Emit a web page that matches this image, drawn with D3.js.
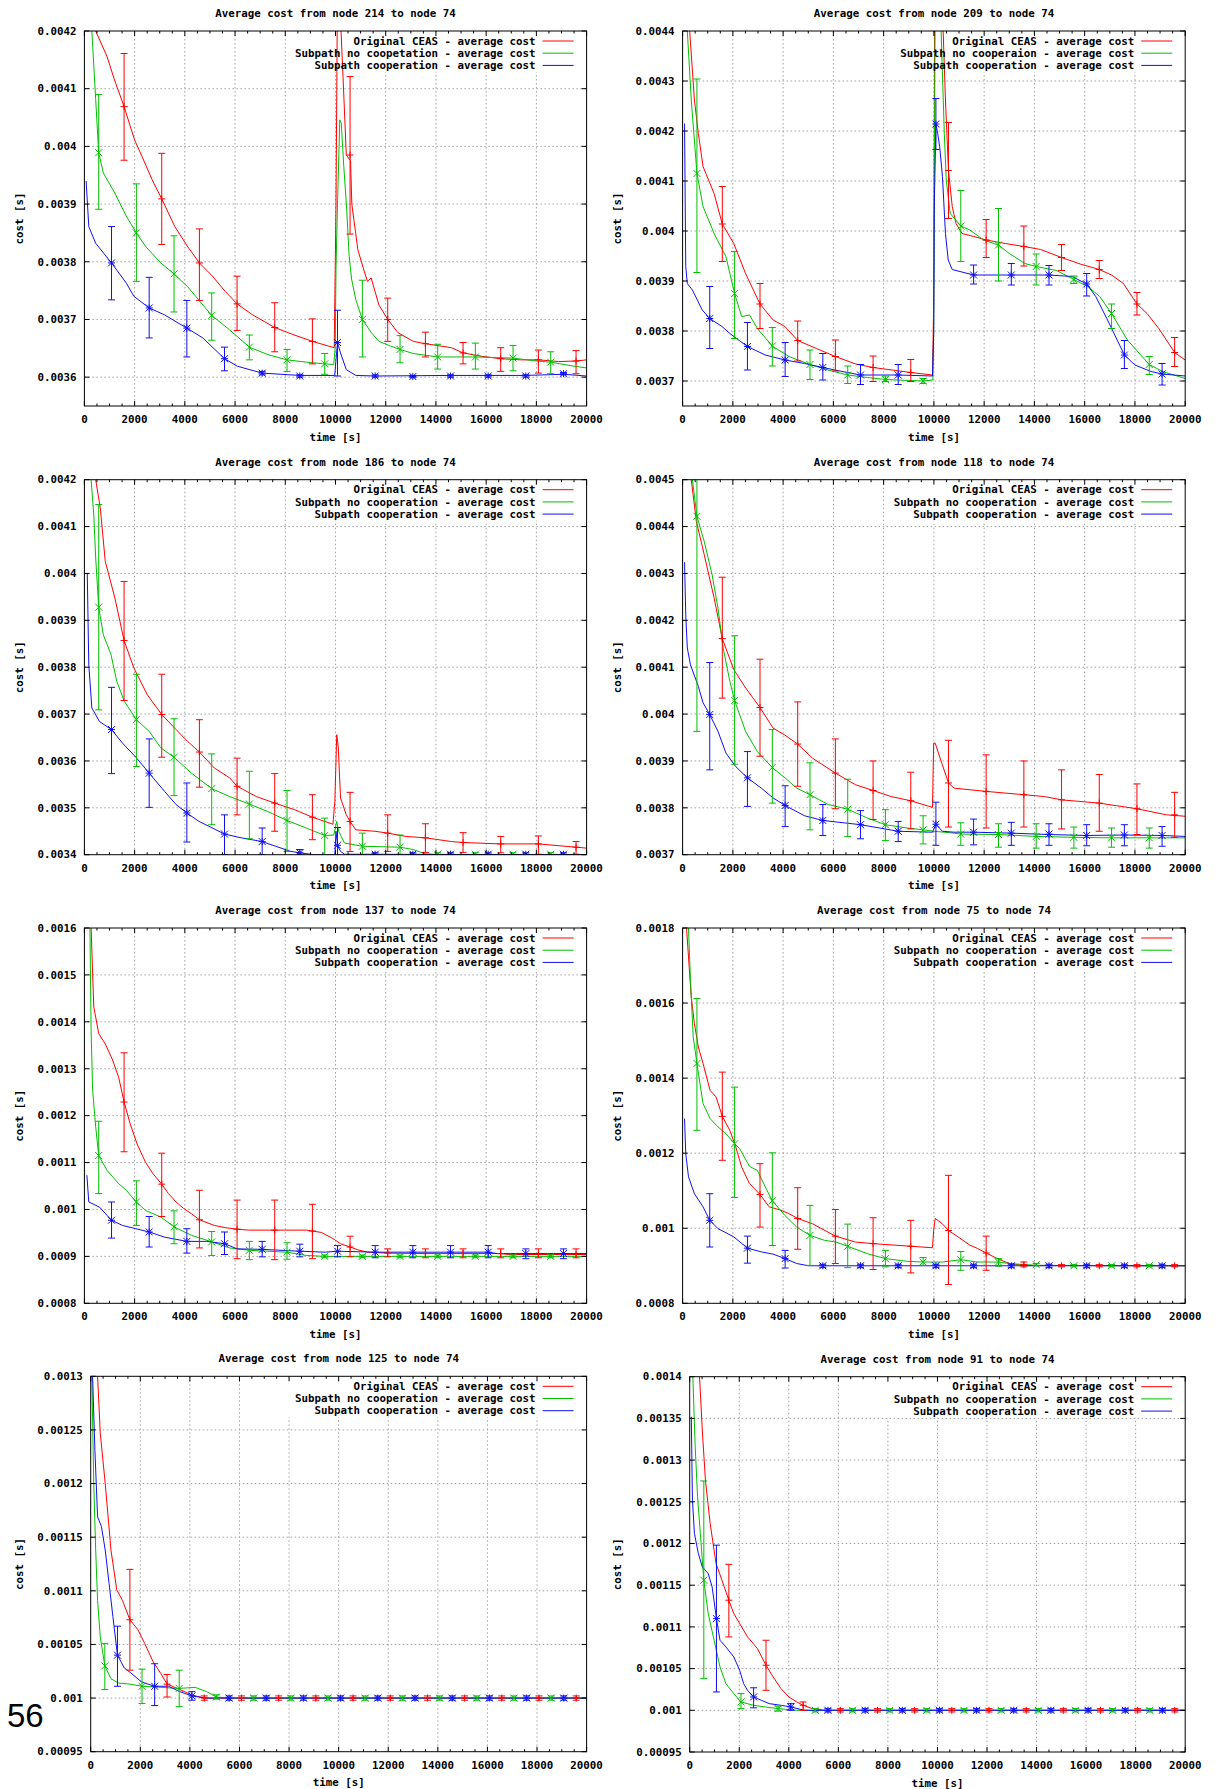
<!DOCTYPE html>
<html>
<head>
<meta charset="utf-8">
<script src="https://cdn.jsdelivr.net/npm/d3@7"></script>
<style>
  body { margin: 0; background: #fff; }
  svg { display: block; }
  text { font-family: "DejaVu Sans Mono", monospace; font-weight: bold; font-size: 10.8px; fill: #000; }
</style>
</head>
<body>
<div id="chart"></div>
<script>
// Tiempos de las barras de error (cada 1500 s, desplazadas por serie)
const origErrT = [1580, 3080, 4580, 6080, 7580, 9080, 10580, 12080, 13580, 15080, 16580, 18080, 19580];
const noCoopErrT = [570, 2070, 3570, 5070, 6570, 8070, 9570, 11070, 12570, 14070, 15570, 17070, 18570];
const coopErrT = [1080, 2580, 4080, 5580, 7080, 8580, 10080, 11580, 13080, 14580, 16080, 17580, 19080];

const xTicks = [0, 2000, 4000, 6000, 8000, 10000, 12000, 14000, 16000, 18000, 20000];

// ---- node 214 ----
const yTicks214 = [0.0036, 0.0037, 0.0038, 0.0039, 0.004, 0.0041, 0.0042];
const orig214 = [[450,0.0042],[900,0.004156],[1200,0.004115],[1580,0.004069],[2000,0.004011],[2300,0.003982],[2700,0.003942],[3080,0.003909],[3600,0.003861],[4100,0.003827],[4580,0.003798],[5100,0.003775],[5600,0.003749],[6080,0.003727],[6700,0.003708],[7580,0.003686],[8300,0.003674],[9080,0.003662],[9950,0.003651],[10020,0.0039],[10080,0.00428],[10200,0.00422],[10300,0.00412],[10430,0.003985],[10600,0.003975],[10650,0.0039],[10890,0.003821],[11100,0.00379],[11270,0.003766],[11420,0.003772],[11730,0.003725],[12080,0.0037],[12490,0.003677],[13100,0.003662],[13580,0.003658],[14620,0.003651],[15080,0.003642],[15840,0.003636],[16580,0.003632],[17370,0.00363],[18080,0.00363],[18890,0.003627],[19580,0.003628],[20000,0.00363]];
const orig214Err = [[0.004069,0.003976,0.004161],[0.003909,0.00383,0.003988],[0.003798,0.003733,0.003857],[0.003727,0.003681,0.003775],[0.003686,0.003644,0.003729],[0.003662,0.003623,0.003701],[0.003985,0.003848,0.004121],[0.0037,0.003662,0.003737],[0.003658,0.003635,0.003678],[0.003642,0.003623,0.00366],[0.003632,0.00361,0.003651],[0.00363,0.003607,0.003647],[0.003628,0.003606,0.003646]];
const noCoop214 = [[297,0.0042],[450,0.004081],[570,0.003989],[754,0.003954],[1212,0.003919],[1669,0.003879],[2070,0.00385],[2430,0.003827],[3040,0.003798],[3570,0.003779],[4107,0.003757],[5070,0.003707],[5784,0.003682],[6570,0.003652],[7307,0.003639],[8070,0.00363],[8832,0.003626],[9570,0.003623],[9930,0.003622],[9990,0.003653],[10020,0.00379],[10080,0.0039],[10170,0.004046],[10230,0.00404],[10330,0.003965],[10440,0.003895],[10540,0.003812],[10640,0.00377],[10810,0.003734],[11070,0.0037],[11430,0.003677],[11730,0.003662],[12190,0.003654],[12570,0.003648],[13100,0.003641],[14070,0.003635],[15570,0.003635],[16300,0.003634],[17070,0.003633],[18000,0.003628],[18570,0.003626],[19350,0.00362],[20000,0.003616]];
const noCoop214Err = [[0.003989,0.003891,0.00409],[0.00385,0.003766,0.003935],[0.003779,0.003713,0.003845],[0.003707,0.003664,0.003746],[0.003652,0.00363,0.003673],[0.00363,0.00361,0.003648],[0.003623,0.003605,0.003641],[0.0037,0.003635,0.003768],[0.003648,0.003625,0.003672],[0.003635,0.003614,0.003657],[0.003635,0.003614,0.003659],[0.003633,0.003611,0.003655],[0.003626,0.003606,0.003644]];
const coop214 = [[69,0.00394],[175,0.003861],[450,0.003832],[1080,0.003798],[1670,0.003763],[1973,0.00374],[2580,0.00372],[3190,0.003708],[4080,0.003685],[4716,0.003668],[5580,0.003632],[6088,0.003619],[7080,0.003607],[8580,0.003603],[9970,0.003603],[10020,0.00363],[10080,0.00366],[10200,0.003642],[10430,0.003613],[10810,0.003603],[11580,0.003602],[14580,0.003603],[17580,0.003603],[19080,0.003605],[20000,0.003602]];
const coop214Err = [[0.003798,0.003734,0.003861],[0.00372,0.003668,0.003773],[0.003685,0.003635,0.003733],[0.003632,0.003611,0.003652],[0.003607,0.003604,0.00361],[0.003602,0.0036,0.003604],[0.00366,0.003602,0.003716],[0.003602,0.0036,0.003604],[0.003601,0.003599,0.003603],[0.003602,0.0036,0.003604],[0.003602,0.0036,0.003604],[0.003602,0.0036,0.003604],[0.003606,0.003604,0.003608]];

// ---- node 209 ----
const yTicks209 = [0.0037, 0.0038, 0.0039, 0.004, 0.0041, 0.0042, 0.0043, 0.0044];
const orig209 = [[282,0.0044],[470,0.004262],[626,0.004195],[814,0.004129],[1253,0.004075],[1580,0.004014],[2036,0.003975],[2506,0.003915],[3080,0.003854],[3602,0.003822],[4072,0.003809],[4580,0.003781],[5324,0.003765],[6080,0.003749],[6890,0.003734],[7580,0.003727],[9080,0.003717],[9944,0.003712],[9990,0.00385],[10030,0.00445],[10335,0.00445],[10460,0.004262],[10580,0.004121],[10730,0.004049],[10880,0.004015],[11120,0.003995],[11590,0.003989],[12080,0.003982],[12840,0.003975],[13580,0.003969],[14250,0.003963],[15080,0.003947],[15820,0.003934],[16580,0.003923],[17070,0.003912],[17540,0.003895],[18080,0.003854],[18480,0.003835],[18950,0.003805],[19580,0.003757],[20000,0.003742]];
const orig209Err = [[0.004014,0.003939,0.004089],[0.003854,0.003805,0.003895],[0.003781,0.00374,0.00382],[0.003749,0.00372,0.003782],[0.003727,0.003699,0.00375],[0.003717,0.003699,0.003743],[0.004121,0.004025,0.004217],[0.003982,0.003947,0.004023],[0.003969,0.00393,0.00401],[0.003947,0.003921,0.003973],[0.003923,0.003905,0.003941],[0.003854,0.003832,0.003877],[0.003757,0.003729,0.003787]];
const noCoop209 = [[188,0.0044],[345,0.004262],[570,0.004115],[814,0.004049],[1253,0.003995],[1723,0.003949],[2070,0.003875],[2349,0.003829],[2662,0.003832],[2975,0.003805],[3570,0.00377],[4228,0.003749],[5070,0.003733],[5794,0.003722],[6570,0.003712],[7360,0.003707],[8070,0.003703],[9570,0.0037],[9960,0.003702],[9990,0.003795],[10050,0.00445],[10257,0.00445],[10414,0.004195],[10492,0.004102],[10650,0.004035],[11070,0.00401],[11430,0.004002],[11980,0.003982],[12570,0.003972],[13000,0.003955],[13620,0.003935],[14070,0.003929],[14880,0.003921],[15570,0.003903],[16130,0.003889],[16600,0.003869],[17070,0.003835],[17700,0.003782],[18570,0.003733],[19100,0.003719],[20000,0.003705]];
const noCoop209Err = [[0.004115,0.003917,0.004304],[0.003875,0.003785,0.003959],[0.00377,0.00373,0.003807],[0.003733,0.003703,0.003762],[0.003712,0.003695,0.00373],[0.003703,0.003699,0.00371],[0.0037,0.003695,0.003705],[0.00401,0.003939,0.004081],[0.003972,0.0039,0.004045],[0.003929,0.003892,0.003954],[0.003903,0.003895,0.00391],[0.003835,0.003805,0.003854],[0.003733,0.003713,0.003749]];
const coop209 = [[78,0.004215],[125,0.003929],[188,0.003895],[391,0.003882],[783,0.003842],[1080,0.003825],[1566,0.003809],[1880,0.003795],[2580,0.003769],[3289,0.003752],[4080,0.003742],[4855,0.003735],[5580,0.003727],[6264,0.00372],[7080,0.003712],[8580,0.003712],[9944,0.00371],[9991,0.003795],[10020,0.004062],[10080,0.004214],[10150,0.004195],[10230,0.004169],[10340,0.004109],[10460,0.003995],[10570,0.003942],[10727,0.003923],[11580,0.003912],[13080,0.003912],[14580,0.003912],[15500,0.003909],[16080,0.003894],[16440,0.003869],[16910,0.003822],[17580,0.003752],[18000,0.003732],[18640,0.003719],[19080,0.003714],[20000,0.00371]];
const coop209Err = [[0.003825,0.003765,0.003889],[0.003769,0.003722,0.003817],[0.003742,0.003709,0.003777],[0.003727,0.003702,0.003755],[0.003712,0.003693,0.003733],[0.003712,0.003693,0.003733],[0.004214,0.004163,0.004265],[0.003912,0.003894,0.003932],[0.003912,0.003892,0.003935],[0.003912,0.003892,0.003931],[0.003894,0.00387,0.003915],[0.003752,0.003725,0.003781],[0.003714,0.003692,0.003735]];

// ---- node 186 ----
const yTicks186 = [0.0034, 0.0035, 0.0036, 0.0037, 0.0038, 0.0039, 0.004, 0.0041, 0.0042];
const orig186 = [[450,0.0042],[632,0.00414],[830,0.004026],[1212,0.003948],[1580,0.003857],[1973,0.003798],[2507,0.003741],[3080,0.003699],[3650,0.003667],[4107,0.003642],[4580,0.003619],[5174,0.003585],[5784,0.003564],[6080,0.003546],[6850,0.003524],[7580,0.00351],[8372,0.003496],[9080,0.00348],[9898,0.003465],[9974,0.003514],[10050,0.003656],[10110,0.00363],[10200,0.003521],[10430,0.003485],[10580,0.003471],[10810,0.003453],[11570,0.00345],[12080,0.003446],[12790,0.003439],[13580,0.003436],[14620,0.003428],[15080,0.003426],[16580,0.003423],[18080,0.003423],[19580,0.003416],[20000,0.003414]];
const orig186Err = [[0.003857,0.003729,0.003983],[0.003699,0.003608,0.003785],[0.003619,0.003544,0.003688],[0.003546,0.003485,0.003606],[0.00351,0.00345,0.003573],[0.00348,0.003432,0.003528],[0.003471,0.003407,0.003533],[0.003446,0.003407,0.003485],[0.003436,0.003405,0.003466],[0.003426,0.003405,0.003447],[0.003423,0.003404,0.003439],[0.003423,0.003401,0.00344],[0.003416,0.003401,0.003428]];
const noCoop186 = [[267,0.0042],[373,0.004125],[450,0.004033],[570,0.003928],[754,0.003869],[1059,0.003827],[1288,0.00377],[1593,0.003727],[2070,0.003688],[2583,0.003663],[3040,0.003628],[3570,0.003608],[4260,0.003574],[5070,0.003541],[5784,0.003524],[6570,0.003508],[7307,0.003492],[8070,0.003473],[8832,0.003457],[9570,0.003441],[9930,0.003442],[10050,0.003471],[10128,0.00345],[10355,0.003425],[11070,0.003418],[12570,0.003416],[13100,0.003411],[13560,0.003402],[14020,0.0034],[20000,0.0034]];
const noCoop186Err = [[0.003928,0.003709,0.004147],[0.003688,0.003588,0.003785],[0.003608,0.003526,0.00369],[0.003541,0.003464,0.003615],[0.003508,0.003434,0.003578],[0.003473,0.003407,0.003537],[0.003441,0.0034,0.003478],[0.003418,0.003399,0.003446],[0.003416,0.003399,0.003442],[0.003401,0.003398,0.003404],[0.003401,0.003398,0.003404],[0.003401,0.003398,0.003404],[0.003401,0.003398,0.003404]];
const coop186 = [[114,0.004001],[175,0.003805],[297,0.003713],[602,0.003684],[1080,0.003667],[1517,0.003638],[2050,0.003608],[2580,0.003574],[3193,0.003535],[3650,0.003507],[4080,0.003489],[4564,0.003471],[5580,0.003444],[6244,0.003436],[7080,0.003428],[7613,0.003418],[8222,0.003407],[8580,0.003404],[9136,0.0034],[9974,0.0034],[10020,0.00345],[10080,0.00342],[10200,0.003407],[10355,0.003401],[20000,0.0034]];
const coop186Err = [[0.003667,0.003573,0.003757],[0.003574,0.003501,0.003647],[0.003489,0.003427,0.003553],[0.003444,0.0034,0.003485],[0.003428,0.0034,0.003457],[0.003404,0.003399,0.003411],[0.00342,0.003399,0.003458],[0.003401,0.003398,0.003404],[0.003401,0.003398,0.003404],[0.003401,0.003398,0.003404],[0.003401,0.003398,0.003404],[0.003401,0.003398,0.003404],[0.003401,0.003398,0.003404]];

// ---- node 118 ----
const yTicks118 = [0.0037, 0.0038, 0.0039, 0.004, 0.0041, 0.0042, 0.0043, 0.0044, 0.0045];
const orig118 = [[345,0.0045],[548,0.004411],[861,0.00434],[1253,0.004248],[1580,0.004161],[2036,0.004095],[2506,0.004056],[3080,0.004014],[3602,0.00397],[4072,0.003955],[4580,0.003936],[5168,0.003906],[6080,0.003874],[6890,0.003849],[7580,0.003837],[8300,0.003824],[9080,0.003815],[9944,0.003801],[9990,0.003938],[10050,0.003938],[10335,0.003892],[10580,0.003853],[10800,0.003842],[12080,0.003835],[13580,0.003828],[14400,0.003824],[15080,0.003817],[16580,0.00381],[18080,0.003798],[19260,0.003785],[20000,0.003782]];
const orig118Err = [[0.004161,0.004034,0.004292],[0.004014,0.00391,0.004117],[0.003936,0.003846,0.004026],[0.003874,0.003798,0.003947],[0.003837,0.003775,0.0039],[0.003815,0.003755,0.003876],[0.003853,0.003759,0.003944],[0.003835,0.003757,0.003913],[0.003828,0.003759,0.0039],[0.003817,0.003755,0.003881],[0.00381,0.00375,0.003871],[0.003798,0.003743,0.003851],[0.003785,0.003737,0.003833]];
const noCoop118 = [[391,0.0045],[570,0.004422],[861,0.004368],[1175,0.004297],[1409,0.004226],[1613,0.004141],[1879,0.00407],[2070,0.004029],[2506,0.003963],[2975,0.00392],[3570,0.003886],[4072,0.003864],[4541,0.003842],[5070,0.003828],[5794,0.003807],[6570,0.003797],[7360,0.003778],[8070,0.003764],[8926,0.003757],[9570,0.003753],[10000,0.00375],[10800,0.003746],[11070,0.003744],[12570,0.003743],[14070,0.003739],[15570,0.003737],[17070,0.003736],[20000,0.003736]];
const noCoop118Err = [[0.004422,0.003963,0.004505],[0.004029,0.003893,0.004167],[0.003886,0.00381,0.003967],[0.003828,0.003753,0.003896],[0.003797,0.003739,0.003861],[0.003764,0.00373,0.003796],[0.003753,0.003723,0.003783],[0.003744,0.00372,0.003768],[0.003743,0.003716,0.003766],[0.003739,0.003714,0.003766],[0.003737,0.003714,0.003759],[0.003736,0.003716,0.003757],[0.003736,0.003714,0.003757]];
const coop118 = [[78,0.004324],[125,0.004212],[188,0.004141],[313,0.004105],[626,0.004059],[814,0.004024],[1080,0.003999],[1409,0.003963],[1723,0.003917],[2114,0.003888],[2580,0.003864],[3132,0.003842],[3602,0.003821],[4080,0.003805],[4855,0.003783],[5580,0.003773],[6420,0.003768],[7080,0.003764],[8580,0.00375],[9944,0.003748],[10080,0.003765],[10335,0.00375],[10800,0.003748],[11580,0.003748],[13080,0.003746],[14580,0.003743],[16080,0.003741],[17580,0.003742],[19080,0.003741],[20000,0.003739]];
const coop118Err = [[0.003999,0.003881,0.00411],[0.003864,0.003803,0.00392],[0.003805,0.00376,0.003847],[0.003773,0.003741,0.003807],[0.003764,0.003734,0.003794],[0.00375,0.003728,0.003771],[0.003765,0.00372,0.003812],[0.003748,0.003721,0.003776],[0.003746,0.00372,0.003769],[0.003744,0.00372,0.003766],[0.003741,0.003719,0.003764],[0.003742,0.003719,0.003764],[0.003741,0.003718,0.00376]];

// ---- node 137 ----
const yTicks137 = [0.0008, 0.0009, 0.001, 0.0011, 0.0012, 0.0013, 0.0014, 0.0015, 0.0016];
const orig137 = [[267,0.0016],[373,0.001432],[571,0.001375],[830,0.001353],[1105,0.001321],[1364,0.001282],[1580,0.001229],[1821,0.001183],[2095,0.00114],[2430,0.001101],[2735,0.001076],[3080,0.001054],[3345,0.001034],[3650,0.001016],[3955,0.001002],[4260,0.000991],[4580,0.000978],[5174,0.000966],[5631,0.000961],[6080,0.000958],[6545,0.000956],[7580,0.000956],[8832,0.000956],[9080,0.000954],[9440,0.000951],[9898,0.000938],[10200,0.000927],[10580,0.00092],[10890,0.000914],[11270,0.000909],[12080,0.000907],[13580,0.000906],[16580,0.000906],[16900,0.000904],[20000,0.000904]];
const orig137Err = [[0.001229,0.001123,0.001334],[0.001054,0.000985,0.00112],[0.000978,0.000918,0.001041],[0.000958,0.000895,0.00102],[0.000956,0.000893,0.00102],[0.000954,0.000895,0.001011],[0.00092,0.000899,0.000943],[0.000907,0.000899,0.000916],[0.000906,0.000897,0.000916],[0.000906,0.000897,0.000916],[0.000906,0.000897,0.000916],[0.000904,0.000897,0.000916],[0.000904,0.000897,0.000916]];
const noCoop137 = [[221,0.0016],[267,0.001382],[328,0.001254],[450,0.001176],[570,0.001115],[907,0.001083],[1364,0.001055],[1669,0.001041],[2070,0.001016],[2430,0.000998],[3040,0.000984],[3570,0.000963],[4260,0.000945],[5070,0.000931],[5784,0.000918],[6570,0.000913],[7307,0.000911],[8070,0.000909],[8832,0.000902],[9570,0.0009],[20000,0.0009]];
const noCoop137Err = [[0.001115,0.001034,0.001188],[0.001016,0.000966,0.001061],[0.000963,0.000927,0.000997],[0.000931,0.000902,0.000953],[0.000913,0.000893,0.000932],[0.000909,0.000894,0.000929],[0.0009,0.000897,0.000903],[0.0009,0.000897,0.000903],[0.0009,0.000897,0.000903],[0.0009,0.000897,0.000903],[0.0009,0.000897,0.000903],[0.0009,0.000897,0.000903],[0.0009,0.000897,0.000903]];
const coop137 = [[99,0.001073],[175,0.001016],[602,0.001005],[1080,0.000977],[1517,0.000966],[2050,0.000959],[2580,0.000952],[3193,0.000941],[4080,0.000932],[4869,0.000932],[5580,0.000927],[6088,0.000916],[7080,0.000915],[8580,0.000911],[9590,0.000909],[10080,0.000911],[11580,0.000909],[16080,0.000909],[16450,0.000906],[20000,0.000906]];
const coop137Err = [[0.000977,0.000939,0.001016],[0.000952,0.00092,0.000985],[0.000932,0.000907,0.000959],[0.000927,0.000904,0.000952],[0.000915,0.000899,0.000932],[0.000911,0.000899,0.000926],[0.000911,0.000899,0.000923],[0.000909,0.000897,0.000923],[0.000909,0.000897,0.000923],[0.000909,0.000897,0.000923],[0.000909,0.000897,0.000923],[0.000906,0.000895,0.000916],[0.000906,0.000895,0.000916]];

// ---- node 75 ----
const yTicks75 = [0.0008, 0.001, 0.0012, 0.0014, 0.0016, 0.0018];
const orig75 = [[157,0.0018],[235,0.001723],[345,0.001616],[470,0.001545],[626,0.001483],[814,0.001439],[1096,0.001367],[1331,0.00135],[1580,0.001298],[1879,0.001261],[2114,0.001217],[2349,0.001163],[2662,0.001119],[3080,0.00109],[3445,0.001057],[3915,0.001048],[4228,0.001039],[4580,0.001026],[5168,0.001012],[6080,0.000979],[6890,0.000963],[7580,0.000959],[9080,0.000952],[9944,0.000948],[9991,0.000995],[10050,0.001026],[10335,0.001012],[10580,0.000994],[10960,0.000977],[11430,0.000955],[11740,0.000946],[12080,0.000934],[12530,0.000919],[13000,0.000906],[13580,0.000901],[20000,0.0009]];
const orig75Err = [[0.001298,0.001181,0.001416],[0.00109,0.001003,0.001172],[0.001026,0.000944,0.001108],[0.000979,0.000906,0.00105],[0.000959,0.00089,0.001028],[0.000952,0.000881,0.001021],[0.000994,0.00085,0.001141],[0.000934,0.000888,0.000979],[0.000903,0.000897,0.00091],[0.0009,0.000897,0.000903],[0.0009,0.000897,0.000903],[0.0009,0.000897,0.000903],[0.0009,0.000897,0.000903]];
const noCoop75 = [[235,0.0018],[313,0.001661],[423,0.00151],[570,0.001439],[814,0.001332],[1096,0.001292],[1409,0.00127],[1723,0.001252],[2070,0.001225],[2271,0.001212],[2662,0.001165],[2975,0.001154],[3289,0.00111],[3570,0.001073],[4072,0.001034],[4541,0.001003],[5070,0.000981],[5638,0.000968],[6107,0.000963],[6570,0.000952],[7360,0.000932],[8070,0.000919],[8926,0.000912],[9570,0.00091],[10335,0.00091],[11070,0.000916],[11745,0.00091],[12570,0.00091],[13000,0.000906],[14070,0.000901],[20000,0.0009]];
const noCoop75Err = [[0.001439,0.001261,0.001612],[0.001225,0.001082,0.001376],[0.001073,0.000954,0.001201],[0.000981,0.000901,0.001061],[0.000952,0.000895,0.001011],[0.000919,0.000897,0.000941],[0.00091,0.000901,0.000922],[0.000916,0.000888,0.000938],[0.00091,0.000899,0.000919],[0.000903,0.0009,0.000906],[0.0009,0.000897,0.000903],[0.0009,0.000897,0.000903],[0.0009,0.000897,0.000903]];
const coop75 = [[78,0.001292],[125,0.001199],[235,0.001137],[470,0.001092],[814,0.001057],[1080,0.001021],[1409,0.000999],[2036,0.000977],[2580,0.000947],[3132,0.000937],[3602,0.000931],[4080,0.000919],[4541,0.000906],[5011,0.0009],[20000,0.0009]];
const coop75Err = [[0.001021,0.00095,0.001092],[0.000947,0.000907,0.000979],[0.000919,0.000894,0.000941],[0.0009,0.000895,0.000904],[0.0009,0.000895,0.000904],[0.0009,0.000895,0.000904],[0.0009,0.000895,0.000904],[0.0009,0.000895,0.000904],[0.0009,0.000895,0.000904],[0.0009,0.000895,0.000904],[0.0009,0.000895,0.000904],[0.0009,0.000895,0.000904],[0.0009,0.000895,0.000904]];

// ---- node 125 ----
const yTicks125 = [0.00095, 0.001, 0.00105, 0.0011, 0.00115, 0.0012, 0.00125, 0.0013];
const orig125 = [[278,0.0013],[386,0.001247],[586,0.0012],[818,0.001138],[1049,0.001101],[1281,0.001091],[1580,0.001073],[1898,0.001064],[2176,0.001051],[2515,0.001034],[2824,0.001023],[3080,0.001013],[3595,0.001008],[4058,0.001003],[4580,0.001],[20000,0.001]];
const orig125Err = [[0.001073,0.001026,0.00112],[0.001013,0.001001,0.001022],[0.001,0.000998,0.001002],[0.001,0.000998,0.001002],[0.001,0.000998,0.001002],[0.001,0.000998,0.001002],[0.001,0.000998,0.001002],[0.001,0.000998,0.001002],[0.001,0.000998,0.001002],[0.001,0.000998,0.001002],[0.001,0.000998,0.001002],[0.001,0.000998,0.001002],[0.001,0.000998,0.001002]];
const noCoop125 = [[46,0.0013],[123,0.0012],[201,0.001138],[278,0.001091],[386,0.001057],[570,0.00103],[818,0.001018],[1126,0.001014],[1589,0.001013],[2070,0.001011],[2824,0.00101],[3570,0.001009],[4213,0.00101],[4676,0.001006],[5070,0.001001],[5601,0.001],[20000,0.001]];
const noCoop125Err = [[0.00103,0.001008,0.001051],[0.001011,0.000995,0.001027],[0.001009,0.000992,0.001026],[0.001001,0.000999,0.001003],[0.001,0.000998,0.001002],[0.001,0.000998,0.001002],[0.001,0.000998,0.001002],[0.001,0.000998,0.001002],[0.001,0.000998,0.001002],[0.001,0.000998,0.001002],[0.001,0.000998,0.001002],[0.001,0.000998,0.001002],[0.001,0.000998,0.001002]];
const coop125 = [[77,0.0013],[170,0.001231],[278,0.001169],[432,0.00116],[586,0.001138],[741,0.001107],[895,0.001076],[1080,0.00104],[1358,0.001028],[1589,0.001024],[2052,0.001015],[2580,0.001011],[3132,0.001011],[3595,0.001006],[4080,0.001002],[4650,0.001],[20000,0.001]];
const coop125Err = [[0.00104,0.001011,0.001067],[0.001011,0.000993,0.001032],[0.001002,0.000998,0.001006],[0.001,0.000998,0.001002],[0.001,0.000998,0.001002],[0.001,0.000998,0.001002],[0.001,0.000998,0.001002],[0.001,0.000998,0.001002],[0.001,0.000998,0.001002],[0.001,0.000998,0.001002],[0.001,0.000998,0.001002],[0.001,0.000998,0.001002],[0.001,0.000998,0.001002]];

// ---- node 91 ----
const yTicks91 = [0.00095, 0.001, 0.00105, 0.0011, 0.00115, 0.0012, 0.00125, 0.0013, 0.00135, 0.0014];
const orig91 = [[397,0.0014],[508,0.001336],[635,0.001276],[826,0.001224],[1064,0.001176],[1302,0.001156],[1580,0.001132],[1779,0.001116],[2017,0.001104],[2335,0.001088],[2732,0.001074],[3080,0.001054],[3368,0.00104],[3685,0.001026],[4003,0.001016],[4321,0.00101],[4580,0.001006],[4956,0.001002],[5433,0.001],[20000,0.001]];
const orig91Err = [[0.001132,0.001088,0.001175],[0.001054,0.001024,0.001084],[0.001006,0.001,0.00101],[0.001,0.000998,0.001002],[0.001,0.000998,0.001002],[0.001,0.000998,0.001002],[0.001,0.000998,0.001002],[0.001,0.000998,0.001002],[0.001,0.000998,0.001002],[0.001,0.000998,0.001002],[0.001,0.000998,0.001002],[0.001,0.000998,0.001002],[0.001,0.000998,0.001002]];
const noCoop91 = [[127,0.0014],[222,0.001316],[318,0.001256],[429,0.001212],[570,0.001156],[747,0.001116],[985,0.001084],[1223,0.001052],[1461,0.001032],[1779,0.00102],[2070,0.00101],[2573,0.001006],[3050,0.001004],[3570,0.001002],[4321,0.001],[20000,0.001]];
const noCoop91Err = [[0.001156,0.001038,0.001275],[0.00101,0.001002,0.00102],[0.001002,0.000999,0.001005],[0.001,0.000998,0.001002],[0.001,0.000998,0.001002],[0.001,0.000998,0.001002],[0.001,0.000998,0.001002],[0.001,0.000998,0.001002],[0.001,0.000998,0.001002],[0.001,0.000998,0.001002],[0.001,0.000998,0.001002],[0.001,0.000998,0.001002],[0.001,0.000998,0.001002]];
const coop91 = [[64,0.001352],[111,0.001252],[191,0.001212],[349,0.001188],[508,0.001172],[747,0.001164],[905,0.001148],[1080,0.00111],[1223,0.001084],[1461,0.001076],[1779,0.001064],[2017,0.001048],[2176,0.001032],[2335,0.001024],[2580,0.001016],[2891,0.001012],[3209,0.001008],[3685,0.001006],[4080,0.001004],[4638,0.001],[20000,0.001]];
const coop91Err = [[0.00111,0.001022,0.001198],[0.001016,0.001003,0.001027],[0.001004,0.001,0.001008],[0.001,0.000998,0.001002],[0.001,0.000998,0.001002],[0.001,0.000998,0.001002],[0.001,0.000998,0.001002],[0.001,0.000998,0.001002],[0.001,0.000998,0.001002],[0.001,0.000998,0.001002],[0.001,0.000998,0.001002],[0.001,0.000998,0.001002],[0.001,0.000998,0.001002]];

// Configuración de los paneles (posición y dominio)
const L = { left: 84.4, right: 586.6, labelX: 19 };
const R = { left: 682.6, right: 1185.2, labelX: 617.7 };
const panels = [
  { node: 214, col: L, top: 31, bottom: 406, yDomain: [0.00355, 0.0042], yTicks: yTicks214, noCoopName: "Subpath no coopetation",
    series: [orig214, noCoop214, coop214], errs: [orig214Err, noCoop214Err, coop214Err] },
  { node: 209, col: R, top: 31, bottom: 406, yDomain: [0.00365, 0.0044], yTicks: yTicks209, noCoopName: "Subpath no cooperaion",
    series: [orig209, noCoop209, coop209], errs: [orig209Err, noCoop209Err, coop209Err] },
  { node: 186, col: L, top: 479.7, bottom: 854.7, yDomain: [0.0034, 0.0042], yTicks: yTicks186, noCoopName: "Subpath no cooperation",
    series: [orig186, noCoop186, coop186], errs: [orig186Err, noCoop186Err, coop186Err] },
  { node: 118, col: R, top: 479.7, bottom: 854.7, yDomain: [0.0037, 0.0045], yTicks: yTicks118, noCoopName: "Subpath no cooperation",
    series: [orig118, noCoop118, coop118], errs: [orig118Err, noCoop118Err, coop118Err] },
  { node: 137, col: L, top: 928, bottom: 1303.3, yDomain: [0.0008, 0.0016], yTicks: yTicks137, noCoopName: "Subpath no cooperation",
    series: [orig137, noCoop137, coop137], errs: [orig137Err, noCoop137Err, coop137Err] },
  { node: 75, col: R, top: 928, bottom: 1303.3, yDomain: [0.0008, 0.0018], yTicks: yTicks75, noCoopName: "Subpath no cooperation",
    series: [orig75, noCoop75, coop75], errs: [orig75Err, noCoop75Err, coop75Err] },
  { node: 125, col: { left: 90.7, right: 586.6, labelX: 19 }, top: 1376.3, bottom: 1751.7, yDomain: [0.00095, 0.0013], yTicks: yTicks125, noCoopName: "Subpath no cooperation",
    series: [orig125, noCoop125, coop125], errs: [orig125Err, noCoop125Err, coop125Err] },
  { node: 91, col: { left: 689.7, right: 1185.2, labelX: 617.7 }, top: 1376.7, bottom: 1752, yDomain: [0.00095, 0.0014], yTicks: yTicks91, noCoopName: "Subpath no cooperation",
    series: [orig91, noCoop91, coop91], errs: [orig91Err, noCoop91Err, coop91Err] }
];

const colors = ["#ff0000", "#00c000", "#1010f0"];
const markers = ["plus", "cross", "star"];
const errTimes = [origErrT, noCoopErrT, coopErrT];

const svg = d3.select("#chart").append("svg")
  .attr("width", 1217)
  .attr("height", 1789);

const fmt = d3.format("~g");

function markerPath(kind, cx, cy) {
  const s = 3.5;
  const plus = `M${cx - s},${cy}H${cx + s}M${cx},${cy - s}V${cy + s}`;
  const cross = `M${cx - s},${cy - s}L${cx + s},${cy + s}M${cx - s},${cy + s}L${cx + s},${cy - s}`;
  if (kind === "plus") return plus;
  if (kind === "cross") return cross;
  return plus + cross;
}

panels.forEach((p, i) => {
  const left = p.col.left, right = p.col.right;
  const x = d3.scaleLinear().domain([0, 20000]).range([left, right]);
  const y = d3.scaleLinear().domain(p.yDomain).range([p.bottom, p.top]);
  const g = svg.append("g");

  // Rejilla punteada
  g.selectAll(".gx").data(xTicks.filter(t => t > 0 && t < 20000)).enter().append("line")
    .attr("x1", d => x(d)).attr("x2", d => x(d)).attr("y1", p.top).attr("y2", p.bottom)
    .attr("stroke", "#a0a0a0").attr("stroke-dasharray", "1.5,2.5");
  g.selectAll(".gy").data(p.yTicks.filter(v => y(v) > p.top + 1 && y(v) < p.bottom - 1)).enter().append("line")
    .attr("x1", left).attr("x2", right).attr("y1", d => y(d)).attr("y2", d => y(d))
    .attr("stroke", "#a0a0a0").attr("stroke-dasharray", "1.5,2.5");

  // Fondo de la leyenda (tapa la rejilla)
  g.append("rect")
    .attr("x", right - 300).attr("y", p.top + 1)
    .attr("width", 299).attr("height", 40)
    .attr("fill", "#fff");

  // Clip del área de datos
  const clipId = "clip" + i;
  svg.append("clipPath").attr("id", clipId).append("rect")
    .attr("x", left).attr("y", p.top).attr("width", right - left).attr("height", p.bottom - p.top);
  const plot = g.append("g").attr("clip-path", `url(#${clipId})`);

  const line = d3.line().x(d => x(d[0])).y(d => y(d[1]));

  p.series.forEach((data, k) => {
    plot.append("path")
      .datum(data)
      .attr("fill", "none")
      .attr("stroke", colors[k])
      .attr("stroke-width", 1)
      .attr("d", line);
  });

  p.errs.forEach((errs, k) => {
    const bars = errs.map((e, j) => ({ t: errTimes[k][j], m: e[0], lo: e[1], hi: e[2] }));
    plot.selectAll(null).data(bars).enter().append("path")
      .attr("fill", "none")
      .attr("stroke", colors[k])
      .attr("stroke-width", 1)
      .attr("d", d => {
        const cx = x(d.t), y0 = y(d.lo), y1 = y(d.hi);
        return `M${cx},${y0}V${y1}M${cx - 3.5},${y0}H${cx + 3.5}M${cx - 3.5},${y1}H${cx + 3.5}` +
          markerPath(markers[k], cx, y(d.m));
      });
  });

  // Marco y marcas de los ejes
  g.append("rect")
    .attr("x", left).attr("y", p.top).attr("width", right - left).attr("height", p.bottom - p.top)
    .attr("fill", "none").attr("stroke", "#000").attr("stroke-width", 1);

  const minor = d3.range(500, 20000, 500).filter(t => t % 2000 !== 0);
  g.selectAll(".mx").data(minor).enter().append("path")
    .attr("stroke", "#000")
    .attr("d", d => `M${x(d)},${p.bottom}v-2.5M${x(d)},${p.top}v2.5`);
  g.selectAll(".tx").data(xTicks).enter().append("path")
    .attr("stroke", "#000")
    .attr("d", d => `M${x(d)},${p.bottom}v-5M${x(d)},${p.top}v5`);
  g.selectAll(".ty").data(p.yTicks).enter().append("path")
    .attr("stroke", "#000")
    .attr("d", d => `M${left},${y(d)}h5M${right},${y(d)}h-5`);

  // Etiquetas de los ejes
  g.selectAll(".lx").data(xTicks).enter().append("text")
    .attr("x", d => x(d)).attr("y", p.bottom + 17)
    .attr("text-anchor", "middle")
    .text(d => d);
  g.selectAll(".ly").data(p.yTicks).enter().append("text")
    .attr("x", left - 8).attr("y", d => y(d)).attr("dy", "0.35em")
    .attr("text-anchor", "end")
    .text(d => fmt(d));

  g.append("text")
    .attr("x", (left + right) / 2).attr("y", p.bottom + 34.5)
    .attr("text-anchor", "middle")
    .text("time [s]");
  g.append("text")
    .attr("transform", `translate(${p.col.labelX},${(p.top + p.bottom) / 2}) rotate(-90)`)
    .attr("dy", "0.35em")
    .attr("text-anchor", "middle")
    .text("cost [s]");
  g.append("text")
    .attr("x", (left + right) / 2).attr("y", p.top - 14)
    .attr("text-anchor", "middle")
    .text(`Average cost from node ${p.node} to node 74`);

  // Leyenda
  const names = ["Original CEAS", p.noCoopName, "Subpath cooperation"];
  names.forEach((n, k) => {
    const ly = p.top + 10 + k * 12.2;
    g.append("text")
      .attr("x", right - 51).attr("y", ly).attr("dy", "0.35em")
      .attr("text-anchor", "end")
      .text(`${n} - average cost`);
    g.append("line")
      .attr("x1", right - 44).attr("x2", right - 13)
      .attr("y1", ly).attr("y2", ly)
      .attr("stroke", colors[k]);
  });
});

// Número de página
svg.append("text")
  .attr("x", 7).attr("y", 1727)
  .style("font-family", "'Liberation Sans', sans-serif")
  .style("font-weight", "normal")
  .style("font-size", "33px")
  .text("56");
</script>
</body>
</html>
